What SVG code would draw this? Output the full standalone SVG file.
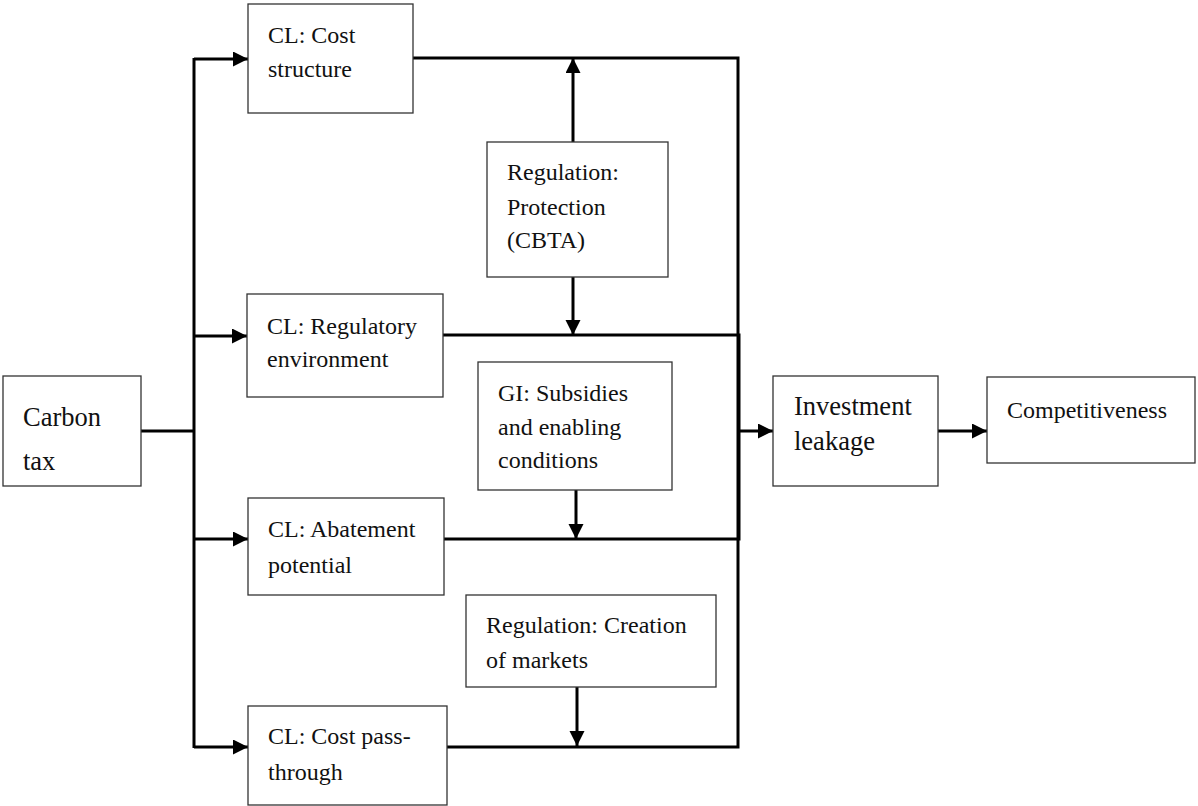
<svg xmlns="http://www.w3.org/2000/svg" width="1198" height="806" viewBox="0 0 1198 806">
<defs>
<style>
.box{fill:#fff;stroke:#333;stroke-width:1.3}
.t{font-size:24px;fill:#111}
.tl{font-size:26.5px}
.ln{fill:none;stroke:#000;stroke-width:3}
.ar{fill:none;stroke:#000;stroke-width:3;marker-end:url(#ah)}
</style>
<marker id="ah" markerUnits="userSpaceOnUse" markerWidth="16" markerHeight="16" refX="15" refY="7.5" orient="auto">
<path d="M0,0 L15,7.5 L0,15 Z" fill="#000"/>
</marker>
</defs>
<rect width="1198" height="806" fill="#fff"/>
<g id="connectors">
<polyline class="ln" points="141,431 194,431"/>
<polyline class="ln" points="194,58 194,748"/>
<polyline class="ar" points="194,59 248,59"/>
<polyline class="ar" points="194,336 247,336"/>
<polyline class="ar" points="194,539 248,539"/>
<polyline class="ar" points="194,747 248,747"/>
<polyline class="ln" points="413,58 738,58 738,747 447,747"/>
<polyline class="ln" points="443,335 739,335 739,539 444,539"/>
<polyline class="ar" points="738,431 773,431"/>
<polyline class="ar" points="938,431 987,431"/>
<polyline class="ar" points="573,142 573,58"/>
<polyline class="ar" points="573,277 573,335"/>
<polyline class="ar" points="576,490 576,539"/>
<polyline class="ar" points="577,687 577,746"/>
</g>
<g font-family="Liberation Serif, Times New Roman, DejaVu Serif, serif">
<g id="carbon-tax">
<rect class="box" x="3" y="376" width="138" height="110"/>
<text class="t tl" x="23" y="426">Carbon</text>
<text class="t tl" x="23" y="470">tax</text>
</g>
<g id="cost-structure">
<rect class="box" x="248" y="4" width="165" height="109"/>
<text class="t" x="268" y="43">CL: Cost</text>
<text class="t" x="268" y="77">structure</text>
</g>
<g id="regulatory-environment">
<rect class="box" x="247" y="294" width="196" height="103"/>
<text class="t" x="267" y="334">CL: Regulatory</text>
<text class="t" x="267" y="367">environment</text>
</g>
<g id="abatement-potential">
<rect class="box" x="248" y="498" width="196" height="97"/>
<text class="t" x="268" y="537">CL: Abatement</text>
<text class="t" x="268" y="573">potential</text>
</g>
<g id="cost-pass-through">
<rect class="box" x="248" y="706" width="199" height="99"/>
<text class="t" x="268" y="744">CL: Cost pass-</text>
<text class="t" x="268" y="780">through</text>
</g>
<g id="regulation-protection">
<rect class="box" x="487" y="142" width="181" height="135"/>
<text class="t" x="507" y="180">Regulation:</text>
<text class="t" x="507" y="215">Protection</text>
<text class="t" x="507" y="248">(CBTA)</text>
</g>
<g id="gi-subsidies">
<rect class="box" x="478" y="362" width="194" height="128"/>
<text class="t" x="498" y="401">GI: Subsidies</text>
<text class="t" x="498" y="435">and enabling</text>
<text class="t" x="498" y="468">conditions</text>
</g>
<g id="regulation-creation">
<rect class="box" x="466" y="595" width="250" height="92"/>
<text class="t" x="486" y="633">Regulation: Creation</text>
<text class="t" x="486" y="668">of markets</text>
</g>
<g id="investment-leakage">
<rect class="box" x="773" y="376" width="165" height="110"/>
<text class="t tl" x="794" y="415">Investment</text>
<text class="t tl" x="794" y="450">leakage</text>
</g>
<g id="competitiveness">
<rect class="box" x="987" y="377" width="208" height="86"/>
<text class="t" x="1007" y="418">Competitiveness</text>
</g>
</g>
</svg>
